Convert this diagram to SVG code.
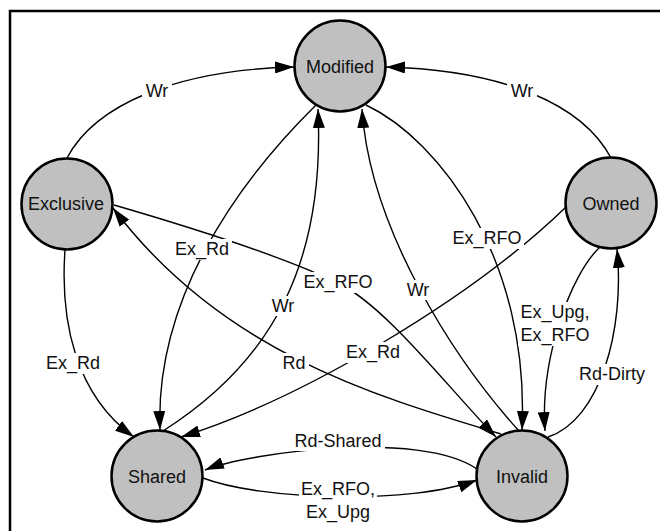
<svg xmlns="http://www.w3.org/2000/svg" width="660" height="531" viewBox="0 0 660 531">
<style>
.frame{fill:none;stroke:#000;stroke-width:2.5}
.node circle{fill:#c0c0c0;stroke:#000;stroke-width:2.5}
.node text,.lbl text{font-family:"Liberation Sans",Arial,sans-serif;font-size:18px;fill:#111;text-anchor:middle}
.edge{fill:none;stroke:#000;stroke-width:1.4}
.arr{marker-end:url(#ah)}
.lbl rect{fill:#fff}
</style>
<defs>
<marker id="ah" markerUnits="userSpaceOnUse" markerWidth="20" markerHeight="12" refX="19" refY="6" orient="auto">
<path d="M0,0 L19,6 L0,12 z" fill="#000"/>
</marker>
</defs>
<rect width="660" height="531" fill="#fff"/>
<path class="frame" d="M10,531 V11 H662"/>
<g id="connectors">
  <g id="e-exc-mod"><path class="edge arr" d="M67,158 C95,105 175,70 294,67"/></g>
  <g id="e-own-mod"><path class="edge arr" d="M611,158 C583,105 505,70 386,67"/></g>
  <g id="e-mod-inv"><path class="edge arr" d="M366,105 C440,140 530,260 522,430"/></g>
  <g id="e-inv-mod"><path class="edge arr" d="M519,431 C455,360 370,230 362,109"/></g>
  <g id="e-own-sha"><path class="edge arr" d="M566,207 C470,300 300,400 181,437"/></g>
  <g id="e-exc-inv"><path class="edge arr" d="M114,205 C200,230 290,260 338,283 S450,390 496,437"/></g>
  <g id="e-inv-exc"><path class="edge arr" d="M501,434 C370,395 220,350 113,208"/></g>
  <g id="e-mod-sha"><path class="edge arr" d="M316,105 C235,185 155,300 160,430"/></g>
  <g id="e-sha-mod"><path class="edge arr" d="M163,431 C275,360 325,260 318,109"/></g>
  <g id="e-exc-sha"><path class="edge arr" d="M65,250 C60,320 75,395 134,437"/></g>
  <g id="e-inv-own"><path class="edge arr" d="M548,437 C600,420 625,330 617,249"/></g>
  <g id="e-own-inv"><path class="edge arr" d="M600,247 C570,275 540,360 545,431"/></g>
  <g id="e-inv-sha"><path class="edge arr" d="M477,469 C420,430 250,452 205,470"/></g>
  <g id="e-sha-inv"><path class="edge arr" d="M203,478 C260,500 410,505 477,480"/></g>
  <g class="lbl">
    <rect x="142" y="81" width="30" height="20"/><text x="157" y="97">Wr</text>
    <rect x="507" y="81" width="30" height="20"/><text x="522" y="97">Wr</text>
    <rect x="172" y="239" width="60" height="21"/><text x="202" y="255">Ex_Rd</text>
    <rect x="301" y="272" width="74" height="21"/><text x="338" y="288">Ex_RFO</text>
    <rect x="268" y="296" width="30" height="20"/><text x="283" y="312">Wr</text>
    <rect x="403" y="280" width="30" height="20"/><text x="418" y="296">Wr</text>
    <rect x="450" y="228" width="74" height="21"/><text x="487" y="244">Ex_RFO</text>
    <rect x="343" y="342" width="60" height="21"/><text x="373" y="358">Ex_Rd</text>
    <rect x="279" y="353" width="30" height="20"/><text x="294" y="369">Rd</text>
    <rect x="43" y="353" width="60" height="21"/><text x="73" y="369">Ex_Rd</text>
    <rect x="518" y="302" width="74" height="44"/><text x="555" y="318">Ex_Upg,</text><text x="555" y="341">Ex_RFO</text>
    <rect x="576" y="364" width="72" height="21"/><text x="612" y="380">Rd-Dirty</text>
    <rect x="291" y="431" width="94" height="20"/><text x="338" y="447">Rd-Shared</text>
    <rect x="299" y="479" width="78" height="44"/><text x="338" y="495">Ex_RFO,</text><text x="338" y="518">Ex_Upg</text>
  </g>
</g>
<g id="modified" class="node"><circle cx="340" cy="66" r="45.5"/><text x="340" y="73">Modified</text></g>
<g id="exclusive" class="node"><circle cx="67" cy="204" r="45.5"/><text x="66" y="210">Exclusive</text></g>
<g id="owned" class="node"><circle cx="611" cy="203" r="45.5"/><text x="611" y="210">Owned</text></g>
<g id="shared" class="node"><circle cx="157" cy="476" r="45.5"/><text x="157" y="483">Shared</text></g>
<g id="invalid" class="node"><circle cx="522" cy="476" r="45.5"/><text x="522" y="483">Invalid</text></g>
</svg>
